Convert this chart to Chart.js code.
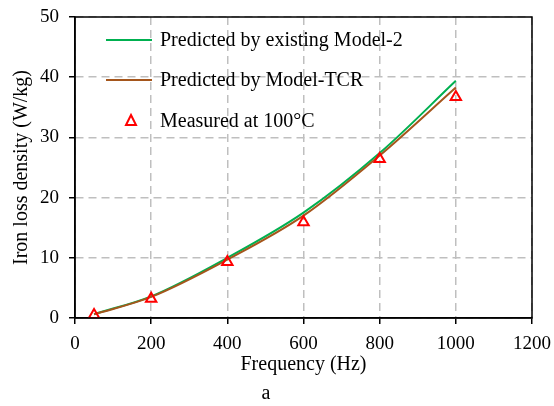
<!DOCTYPE html>
<html>
<head>
<meta charset="utf-8">
<script src="https://cdn.jsdelivr.net/npm/chart.js@4.4.0/dist/chart.umd.min.js"></script>
<style>
  html, body { margin: 0; padding: 0; background: #fff; }
  #wrap { width: 554px; height: 406px; }
</style>
</head>
<body>
<div id="wrap"><canvas id="myChart" width="554" height="406"></canvas></div>
<script>
// values
const freq = [50, 200, 400, 600, 800, 1000];
const model2 = [0.65, 3.6, 10.0, 17.5, 27.4, 39.4];
const modelTCR = [0.6, 3.5, 9.7, 17.0, 27.0, 38.3];
const measured = [0.5, 3.2, 9.3, 15.9, 26.4, 36.7];
const xTicks = [0, 200, 400, 600, 800, 1000, 1200];
const yTicks = [0, 10, 20, 30, 40, 50];

const serif = "'Liberation Serif', 'Times New Roman', serif";

function pts(ys) {
    return freq.map((f, i) => ({ x: f, y: ys[i] }));
}

const data = {
    datasets: [
        {
            label: 'Predicted by existing Model-2',
            data: pts(model2),
            showLine: true,
            borderColor: '#00b050',
            borderWidth: 2,
            pointRadius: 0,
            cubicInterpolationMode: 'monotone',
            order: 2
        },
        {
            label: 'Predicted by Model-TCR',
            data: pts(modelTCR),
            showLine: true,
            borderColor: '#a5561c',
            borderWidth: 2,
            pointRadius: 0,
            cubicInterpolationMode: 'monotone',
            order: 1
        },
        {
            label: 'Measured at 100\u00B0C',
            data: pts(measured),
            showLine: false,
            pointStyle: 'triangle',
            pointRadius: 6,
            pointBorderWidth: 2,
            pointBorderColor: '#ff0000',
            pointBackgroundColor: 'rgba(0,0,0,0)',
            order: 0
        }
    ]
};

// box round the plot area and the legend drawn inside it
const extras = {
    id: 'extras',
    afterDatasetsDraw(chart) {
        const ctx = chart.ctx;
        const a = chart.chartArea;
        ctx.save();
        ctx.strokeStyle = '#000';
        ctx.lineWidth = 1.5;
        ctx.strokeRect(a.left, a.top, a.right - a.left, a.bottom - a.top);

        const rows = [40, 80, 121];
        ctx.font = '20px ' + serif;
        ctx.textBaseline = 'middle';
        ctx.textAlign = 'left';
        chart.data.datasets.forEach((ds, i) => {
            const y = rows[i];
            if (ds.showLine === false) {
                ctx.beginPath();
                ctx.moveTo(131, y - 6);
                ctx.lineTo(136, y + 4);
                ctx.lineTo(126, y + 4);
                ctx.closePath();
                ctx.strokeStyle = ds.pointBorderColor;
                ctx.lineWidth = 2;
                ctx.stroke();
            } else {
                ctx.beginPath();
                ctx.moveTo(106, y);
                ctx.lineTo(152, y);
                ctx.strokeStyle = ds.borderColor;
                ctx.lineWidth = 2;
                ctx.stroke();
            }
            ctx.fillStyle = '#000';
            ctx.fillText(ds.label, 160, y + 1);
        });
        ctx.restore();
    }
};

const gridOpts = {
    color: '#bfbfbf',
    lineWidth: 1.5,
    tickColor: '#000',
    tickLength: 6,
    tickBorderDash: [],
    tickWidth: 1.5
};

function noPad(s) {
    s.paddingLeft = 0;
    s.paddingRight = 0;
    s.paddingTop = 0;
    s.paddingBottom = 0;
}

const config = {
    type: 'scatter',
    data: data,
    plugins: [extras],
    options: {
        responsive: false,
        animation: false,
        layout: { padding: { top: 17, right: 22, left: 0, bottom: 0 } },
        plugins: {
            legend: { display: false },
            tooltip: { enabled: false },
            title: {
                display: true,
                position: 'bottom',
                text: 'a',
                color: '#000',
                font: { family: serif, size: 20, weight: 'normal' },
                padding: { top: 8, bottom: 0 }
            }
        },
        scales: {
            x: {
                type: 'linear',
                min: 0,
                max: 1200,
                afterBuildTicks: (s) => { s.ticks = xTicks.map(v => ({ value: v })); },
                afterFit: (s) => { s.height = 56; noPad(s); },
                ticks: {
                    color: '#000',
                    font: { family: serif, size: 19 },
                    padding: 9,
                    maxRotation: 0,
                    callback: (v) => String(v)
                },
                grid: gridOpts,
                border: { display: true, color: '#000', width: 1.5, dash: [8, 5] },
                title: {
                    display: true,
                    text: 'Frequency (Hz)',
                    color: '#000',
                    font: { family: serif, size: 20 },
                    padding: { top: 0, bottom: -3 }
                }
            },
            y: {
                min: 0,
                max: 50,
                afterBuildTicks: (s) => { s.ticks = yTicks.map(v => ({ value: v })); },
                afterFit: (s) => { s.width = 75; noPad(s); },
                ticks: {
                    color: '#000',
                    font: { family: serif, size: 19 },
                    padding: 10,
                    callback: (v) => String(v)
                },
                grid: gridOpts,
                border: { display: true, color: '#000', width: 1.5, dash: [8, 5] },
                title: {
                    display: true,
                    text: 'Iron loss density (W/kg)',
                    color: '#000',
                    font: { family: serif, size: 20 },
                    padding: { top: 10, bottom: 4 }
                }
            }
        }
    }
};

const myChart = new Chart(document.getElementById('myChart'), config);
</script>
</body>
</html>
